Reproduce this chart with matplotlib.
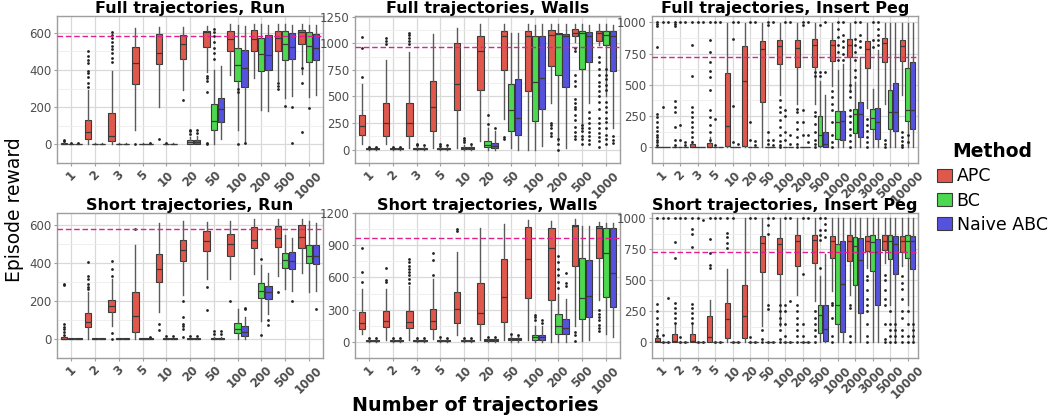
import numpy as np
import matplotlib.pyplot as plt
from matplotlib.patches import Patch

methods = ["APC", "BC", "Naive ABC"]
colors = ["#E0584C", "#4CD94F", "#5552E0"]
offsets = [-0.3, 0.0, 0.3]

n_traj = ["1", "2", "3", "5", "10", "20", "50", "100", "200", "500", "1000"]
n_traj_peg = n_traj + ["2000", "3000", "5000", "10000"]

# box stats per category: (whisker low, q1, median, q3, whisker high)
run_full_apc = [(0, 0, 3, 8, 18), (0, 30, 64, 133, 293), (0, 16, 46, 171, 392), (76, 326, 438, 524, 626),
                (199, 430, 491, 593, 630), (293, 460, 537, 590, 630), (390, 521, 603, 611, 636),
                (372, 501, 567, 608, 649), (356, 504, 567, 613, 646), (340, 501, 573, 608, 649),
                (376, 537, 603, 613, 649)]
run_full_bc = [(0, 0, 1, 3, 6), (0, 0, 1, 3, 6), (0, 0, 1, 3, 6), (0, 0, 1, 3, 6), (0, 0, 1, 3, 7),
               (0, 2, 12, 26, 42), (0, 79, 125, 216, 400), (79, 340, 425, 516, 640),
               (183, 392, 485, 573, 649), (249, 452, 540, 608, 649), (257, 445, 529, 603, 640)]
run_full_nabc = [(0, 0, 1, 3, 6), (0, 0, 1, 3, 6), (0, 0, 1, 3, 6), (0, 0, 1, 3, 6), (0, 0, 1, 3, 8),
                 (0, 2, 14, 26, 45), (30, 120, 188, 249, 420), (7, 311, 409, 509, 636),
                 (178, 402, 483, 587, 643), (260, 460, 526, 597, 640), (265, 455, 517, 595, 640)]
run_full_out = [
    {"1": [20, 26], "2": [310, 330, 360, 385, 395, 440, 455, 475, 500],
     "3": [445, 465, 490, 510, 530, 550, 570, 590, 605], "5": [3], "10": [28], "20": [240],
     "50": [0, 10, 280, 340, 355, 370], "500": [300, 315, 330], "1000": [65, 330, 410]},
    {"1": [8], "10": [9], "20": [55, 70, 80], "50": [460, 490, 520, 550, 585, 605, 620],
     "100": [0, 280, 295], "500": [205], "1000": [195]},
    {"1": [8], "5": [9], "20": [60, 80], "100": [8], "500": [8, 200]},
]

walls_full_apc = [(51, 135, 222, 327, 615), (51, 126, 249, 441, 845), (15, 126, 249, 441, 915),
                  (15, 177, 402, 642, 1091), (15, 375, 615, 1001, 1145), (81, 561, 929, 1070, 1184),
                  (285, 746, 1064, 1112, 1184), (0, 555, 1070, 1115, 1184), (441, 785, 1076, 1124, 1184),
                  (1016, 1064, 1100, 1130, 1184), (980, 1025, 1094, 1112, 1184)]
walls_full_bc = [(0, 4, 8, 14, 25), (0, 4, 8, 14, 25), (0, 4, 8, 14, 25), (0, 4, 8, 14, 25),
                 (0, 5, 12, 25, 45), (0, 21, 45, 81, 200), (15, 177, 375, 615, 1100),
                 (0, 267, 636, 1064, 1175), (81, 705, 1085, 1100, 1184), (216, 761, 1100, 1112, 1184),
                 (500, 980, 1076, 1112, 1184)]
walls_full_nabc = [(0, 4, 8, 14, 25), (0, 4, 8, 14, 25), (0, 4, 8, 14, 25), (0, 4, 8, 14, 25),
                   (0, 5, 12, 22, 40), (0, 15, 36, 66, 171), (0, 141, 300, 666, 1094),
                   (36, 387, 675, 1064, 1184), (15, 591, 1070, 1085, 1184), (441, 825, 1070, 1109, 1175),
                   (200, 735, 1070, 1118, 1175)]
walls_full_out = [
    {"1": [680, 960, 1055], "2": [990, 1020, 1050], "3": [990, 1020, 1050, 1075, 1095],
     "50": [105, 120], "200": [130, 160, 200, 230, 250],
     "500": [100, 130, 170, 210, 280, 330, 380, 400, 440, 480, 600, 650, 700, 930, 960],
     "1000": [30, 80, 120, 160, 200, 250, 300, 380, 450, 500, 550, 600, 640, 700, 760, 820, 870]},
    {"1": [30], "2": [30], "3": [40, 55], "5": [35, 55], "10": [70, 90, 110], "20": [240, 330],
     "200": [0, 50, 100], "500": [50, 100, 130, 180, 200, 230],
     "1000": [50, 100, 140, 200, 260, 300, 350, 400, 450, 560, 610, 660, 700, 760]},
    {"1": [30], "2": [30], "3": [45], "5": [40], "10": [50], "20": [200],
     "500": [50, 90, 130, 170, 200, 250, 300, 350], "1000": [60, 90, 130]},
]

peg_full_apc = [(0, 0, 2, 6, 12), (0, 0, 2, 5, 12), (0, 0, 4, 23, 50), (0, 0, 6, 35, 80),
                (0, 13, 168, 594, 995), (0, 13, 531, 807, 995), (0, 363, 787, 850, 995),
                (418, 669, 807, 855, 995), (343, 639, 794, 860, 995), (343, 644, 819, 865, 995),
                (494, 694, 819, 857, 995), (444, 724, 819, 870, 995), (318, 631, 789, 850, 995),
                (343, 682, 832, 875, 995), (418, 689, 814, 857, 995)]
peg_full_bc = [(0, 0, 0, 0, 0), (0, 0, 0, 0, 0), (0, 0, 0, 0, 0), (0, 0, 0, 0, 0), (0, 0, 0, 0, 0),
               (0, 0, 0, 0, 0), (0, 0, 0, 0, 0), (0, 0, 0, 0, 0), (0, 0, 0, 0, 0),
               (0, 13, 98, 248, 531), (0, 68, 205, 288, 619), (0, 118, 268, 306, 520),
               (0, 148, 231, 306, 469), (0, 148, 281, 456, 995), (0, 213, 298, 631, 995)]
peg_full_nabc = [(0, 0, 0, 0, 0), (0, 0, 0, 0, 0), (0, 0, 0, 0, 0), (0, 0, 0, 0, 0), (0, 0, 0, 0, 0),
                 (0, 0, 0, 0, 0), (0, 0, 0, 0, 0), (0, 0, 0, 0, 0), (0, 0, 0, 0, 0),
                 (0, 0, 30, 123, 418), (0, 60, 213, 288, 669), (0, 80, 263, 363, 719),
                 (0, 68, 205, 313, 780), (0, 130, 281, 514, 995), (0, 143, 298, 682, 995)]
peg_full_out = [
    {"1": [20, 40, 60, 80, 100, 130, 160, 200, 240, 270, 800, 970, 990, 1000],
     "2": [20, 60, 160, 280, 320, 370, 970, 990, 1000],
     "3": [40, 80, 120, 160, 200, 240, 280, 320, 570, 820, 1000],
     "5": [60, 120, 180, 240, 300, 460, 560, 610, 680, 760, 860, 1000],
     "100": [0, 20, 50, 100, 160, 220, 280, 320, 380], "200": [0, 30, 80, 150, 200, 280, 310],
     "500": [0, 30, 60, 120, 190, 250, 280, 570, 600], "1000": [0, 40, 100, 200, 300, 350, 400, 450],
     "2000": [0, 50, 100, 150, 200, 250, 300, 400, 450, 500], "3000": [0, 40, 80, 130, 180, 230],
     "5000": [0, 30, 60], "10000": [0, 20, 50, 80, 120]},
    {"1": [320, 1000], "2": [60, 180, 1000], "3": [1000], "5": [20, 230, 1000], "10": [40, 330, 870, 1000],
     "20": [60, 200, 1000], "50": [30, 60, 120, 980, 1000], "100": [60, 120, 250, 300, 1000],
     "200": [100, 200, 300, 980, 1000], "500": [570, 600, 980], "1000": [700, 760, 820, 880, 950, 1000],
     "2000": [560, 620, 700, 760, 820, 870, 1000], "3000": [800, 860, 1000], "5000": [], "10000": [100, 40]},
    {"1": [1000], "2": [20, 40, 1000], "3": [1000], "5": [1000], "10": [30, 1000], "20": [20, 50, 1000],
     "50": [20, 60, 1000], "100": [30, 100, 1000], "200": [40, 100, 1000], "500": [600, 1000],
     "1000": [700, 750, 800, 850, 900, 1000], "2000": [800, 850, 900, 1000],
     "3000": [820, 860, 900, 950, 1000], "5000": [], "10000": []},
]

run_short_apc = [(0, 0, 2, 8, 15), (0, 64, 91, 136, 245), (69, 141, 173, 205, 317), (0, 37, 123, 245, 493),
                 (141, 301, 368, 445, 610), (232, 408, 469, 522, 619), (317, 464, 514, 565, 613),
                 (317, 437, 498, 552, 622), (344, 477, 522, 589, 632), (333, 485, 531, 594, 629),
                 (349, 477, 536, 597, 629)]
run_short_bc = [(0, 0, 1, 3, 6), (0, 0, 1, 3, 6), (0, 0, 1, 3, 6), (0, 0, 1, 3, 6), (0, 0, 1, 3, 6),
                (0, 0, 1, 3, 6), (0, 0, 2, 5, 12), (0, 29, 53, 85, 157), (93, 216, 251, 293, 389),
                (261, 373, 413, 450, 546), (245, 397, 437, 493, 621)]
run_short_nabc = [(0, 0, 1, 3, 6), (0, 0, 1, 3, 6), (0, 0, 1, 3, 6), (0, 0, 1, 3, 6), (0, 0, 1, 3, 6),
                  (0, 0, 1, 3, 6), (0, 0, 2, 5, 12), (0, 13, 37, 66, 117), (133, 210, 245, 280, 349),
                  (253, 370, 411, 456, 533), (253, 392, 437, 493, 610)]
run_short_out = [
    {"1": [20, 35, 50, 65, 80, 285, 290], "2": [260, 275, 290, 315, 330, 405],
     "3": [0, 30, 330, 370, 410], "5": [580], "10": [45, 80], "20": [10, 50, 70, 80, 115, 200],
     "50": [150, 275], "100": [200], "500": [245]},
    {"10": [15], "20": [15], "50": [25, 40], "200": [20, 420]},
    {"5": [8], "10": [15], "20": [15], "50": [25, 40], "100": [160, 165], "200": [75, 100], "500": [200],
     "1000": [160]},
]

walls_short_apc = [(72, 123, 178, 278, 497), (20, 135, 192, 284, 497), (20, 126, 187, 290, 517),
                   (29, 118, 195, 304, 589), (66, 172, 307, 468, 838), (20, 167, 273, 545, 1062),
                   (20, 181, 422, 769, 1100), (20, 411, 775, 1071, 1134), (0, 388, 870, 1062, 1128),
                   (150, 709, 1082, 1091, 1140), (393, 784, 1062, 1077, 1120)]
walls_short_bc = [(0, 5, 12, 20, 30), (0, 5, 12, 20, 30), (0, 5, 12, 20, 30), (0, 5, 12, 20, 30),
                  (0, 5, 12, 20, 30), (0, 8, 16, 25, 40), (0, 18, 30, 40, 60), (0, 20, 43, 66, 144),
                  (0, 72, 144, 256, 450), (9, 210, 411, 781, 1082), (72, 416, 830, 1062, 1105)]
walls_short_nabc = [(0, 5, 12, 20, 30), (0, 5, 12, 20, 30), (0, 5, 12, 20, 30), (0, 5, 12, 20, 30),
                    (0, 5, 12, 20, 30), (0, 8, 16, 25, 40), (0, 18, 30, 40, 60), (0, 14, 43, 66, 144),
                    (0, 78, 129, 215, 400), (14, 230, 431, 761, 1077), (49, 324, 640, 1062, 1105)]
walls_short_out = [
    {"1": [560, 650, 870], "2": [560, 580, 690], "3": [550, 590, 620, 650, 680, 710, 740, 770],
     "5": [620, 760, 830], "10": [1030, 1050], "500": [10, 60, 90],
     "1000": [100, 130, 160, 200, 230, 260, 300]},
    {"1": [40], "2": [40], "3": [40], "5": [45], "10": [40], "20": [50], "50": [70],
     "100": [200, 230, 250], "200": [500, 560, 620, 680, 740, 800]},
    {"1": [40], "2": [40], "3": [40], "5": [40], "10": [40], "20": [50], "50": [65],
     "100": [180, 200], "200": [520, 550, 640]},
]

peg_short_apc = [(0, 0, 13, 33, 80), (0, 0, 10, 65, 150), (0, 0, 15, 65, 150), (0, 0, 45, 209, 339),
                 (0, 33, 188, 314, 590), (0, 38, 209, 465, 1000), (133, 568, 799, 857, 1000),
                 (133, 548, 794, 842, 1000), (384, 611, 819, 862, 1000), (334, 636, 824, 862, 1000),
                 (410, 681, 819, 857, 1000), (384, 653, 819, 862, 1000), (598, 736, 819, 854, 1000),
                 (636, 744, 817, 862, 1000), (611, 724, 817, 857, 1000)]
peg_short_bc = [(0, 0, 0, 0, 0), (0, 0, 0, 0, 0), (0, 0, 0, 0, 0), (0, 0, 0, 0, 0), (0, 0, 0, 0, 0),
                (0, 0, 0, 0, 0), (0, 0, 0, 0, 0), (0, 0, 0, 0, 0), (0, 0, 0, 0, 0),
                (0, 75, 221, 297, 530), (0, 146, 304, 792, 1000), (0, 465, 774, 849, 1000),
                (0, 573, 804, 862, 1000), (300, 668, 812, 862, 1000), (300, 679, 817, 862, 1000)]
peg_short_nabc = [(0, 0, 0, 0, 0), (0, 0, 0, 0, 0), (0, 0, 0, 0, 0), (0, 0, 0, 0, 0), (0, 0, 0, 0, 0),
                  (0, 0, 0, 0, 0), (0, 0, 0, 0, 0), (0, 0, 0, 0, 0), (0, 0, 0, 0, 0),
                  (0, 8, 108, 304, 711), (0, 83, 472, 817, 1000), (0, 239, 666, 837, 1000),
                  (0, 302, 724, 829, 1000), (0, 548, 792, 854, 1000), (0, 591, 812, 857, 1000)]
peg_short_out = [
    {"1": [50, 100, 150, 200, 250, 310, 1000], "2": [160, 200, 240, 280, 320, 680, 810, 1000],
     "3": [160, 200, 240, 280, 310, 770, 870, 910, 1000], "5": [600, 620, 720, 830, 1000],
     "10": [760, 800, 850, 880, 1000], "50": [0, 30, 100], "100": [0, 30, 100, 150, 200, 250, 300],
     "200": [0, 50, 100, 150, 200, 250, 300], "500": [0, 50, 100, 150, 200, 250],
     "1000": [0, 50, 200, 300, 320], "2000": [0, 50, 280, 300], "3000": [0, 50, 150, 250, 300, 350, 420, 500, 530],
     "5000": [0, 30, 150, 300, 350, 420, 500, 540], "10000": [0, 50, 100, 200, 250, 350, 430, 480, 530]},
    {"1": [0, 60, 1000], "2": [0, 40, 1000], "3": [0, 1000], "5": [0, 1000], "10": [0, 1000],
     "20": [0, 40, 1000], "50": [0, 270, 300, 870, 940, 1000], "100": [0, 50, 150, 250, 300, 1000],
     "200": [0, 50, 150, 550, 1000], "500": [600, 820, 860, 900, 1000], "1000": [],
     "3000": [], "5000": [0, 50, 100, 150, 250], "10000": [0, 50, 150, 250]},
    {"1": [0, 360, 1000], "2": [0, 1000], "3": [0, 980], "5": [0, 1000], "10": [0], "20": [0, 1000],
     "50": [0, 1000], "100": [0, 330, 1000], "200": [0, 1000], "500": [850, 900, 950, 1000],
     "5000": [0, 50, 100, 150], "10000": [0, 50, 100, 150]},
]

ref_run, ref_walls, ref_peg = 580, 967, 725

panels = [
    ("Full trajectories, Run", n_traj, [run_full_apc, run_full_bc, run_full_nabc], run_full_out,
     (-35, 690), [0, 200, 400, 600], ref_run),
    ("Full trajectories, Walls", n_traj, [walls_full_apc, walls_full_bc, walls_full_nabc], walls_full_out,
     (-66, 1256), [0, 250, 500, 750, 1000, 1250], ref_walls),
    ("Full trajectories, Insert Peg", n_traj_peg, [peg_full_apc, peg_full_bc, peg_full_nabc], peg_full_out,
     (-55, 1050), [0, 250, 500, 750, 1000], ref_peg),
    ("Short trajectories, Run", n_traj, [run_short_apc, run_short_bc, run_short_nabc], run_short_out,
     (-34, 662), [0, 200, 400, 600], ref_run),
    ("Short trajectories, Walls", n_traj, [walls_short_apc, walls_short_bc, walls_short_nabc], walls_short_out,
     (-54, 1200), [0, 300, 600, 900, 1200], ref_walls),
    ("Short trajectories, Insert Peg", n_traj_peg, [peg_short_apc, peg_short_bc, peg_short_nabc], peg_short_out,
     (-53, 1040), [0, 250, 500, 750, 1000], ref_peg),
]

W, H = 1058, 419
fig = plt.figure(figsize=(W / 100, H / 100), dpi=100)
cols = [(57, 323), (355, 620), (652, 918)]
rows = [(16, 163), (213, 358)]


def draw_panel(ax, title, cats, series, fliers, ylim, yticks, ref):
    x = np.arange(len(cats))
    for k in range(3):
        stats = []
        for i, (lo, q1, med, q3, hi) in enumerate(series[k]):
            stats.append(dict(whislo=lo, q1=q1, med=med, q3=q3, whishi=hi,
                              fliers=fliers[k].get(cats[i], [])))
        ax.bxp(stats, positions=x + offsets[k], widths=0.27, patch_artist=True, showcaps=False,
               manage_ticks=False,
               boxprops=dict(facecolor=colors[k], edgecolor="#3a3a3a", linewidth=0.8),
               medianprops=dict(color="#3a3a3a", linewidth=0.9),
               whiskerprops=dict(color="#5a5a5a", linewidth=1.0),
               flierprops=dict(marker="o", markersize=2.0, markerfacecolor="#222222",
                               markeredgecolor="none"))
    ax.axhline(ref, color="#E0208C", linestyle=(0, (4, 2)), linewidth=1.0, zorder=3)
    ax.set_xlim(-0.6, len(cats) - 0.4)
    ax.set_ylim(*ylim)
    ax.set_xticks(x)
    ax.set_xticklabels(cats, rotation=45, ha="center", fontsize=8.5, fontweight="bold", color="#4D4D4D")
    ax.set_yticks(yticks)
    ax.set_yticklabels([str(t) for t in yticks], fontsize=8.5, color="#4D4D4D")
    step = yticks[1] - yticks[0]
    ax.set_yticks(np.arange(yticks[0] - step / 2, ylim[1], step), minor=True)
    ax.grid(which="major", color="#D9D9D9", linewidth=0.9)
    ax.grid(which="minor", axis="y", color="#EDEDED", linewidth=0.6)
    ax.set_axisbelow(True)
    ax.tick_params(which="major", length=2.5, color="#9E9E9E", pad=1.5)
    ax.tick_params(which="minor", length=0)
    for sp in ax.spines.values():
        sp.set_color("#9E9E9E")
        sp.set_linewidth(1.0)
    ax.set_title(title, fontsize=11.5, fontweight="bold", pad=2)


for idx, p in enumerate(panels):
    r, c = divmod(idx, 3)
    x0, x1 = cols[c]
    y0, y1 = rows[r]
    ax = fig.add_axes([x0 / W, 1 - y1 / H, (x1 - x0) / W, (y1 - y0) / H])
    draw_panel(ax, *p)

fig.text(15 / W, 1 - 210 / H, "Episode reward", rotation=90, fontsize=13.5, ha="center", va="center")
fig.text(475 / W, 1 - 405 / H, "Number of trajectories", fontsize=13.8, fontweight="bold",
         ha="center", va="center")

handles = [Patch(facecolor=col, edgecolor="#3a3a3a", linewidth=0.8) for col in colors]
leg = fig.legend(handles, methods, loc="center left", bbox_to_anchor=(921 / W, 1 - 188 / H),
                 frameon=False, fontsize=12.5, title="Method", handlelength=0.9, handleheight=0.8,
                 handletextpad=0.25, labelspacing=0.35)
leg.get_title().set_fontweight("bold")
leg.get_title().set_fontsize(13.5)

fig.savefig("out.png", dpi=100)
